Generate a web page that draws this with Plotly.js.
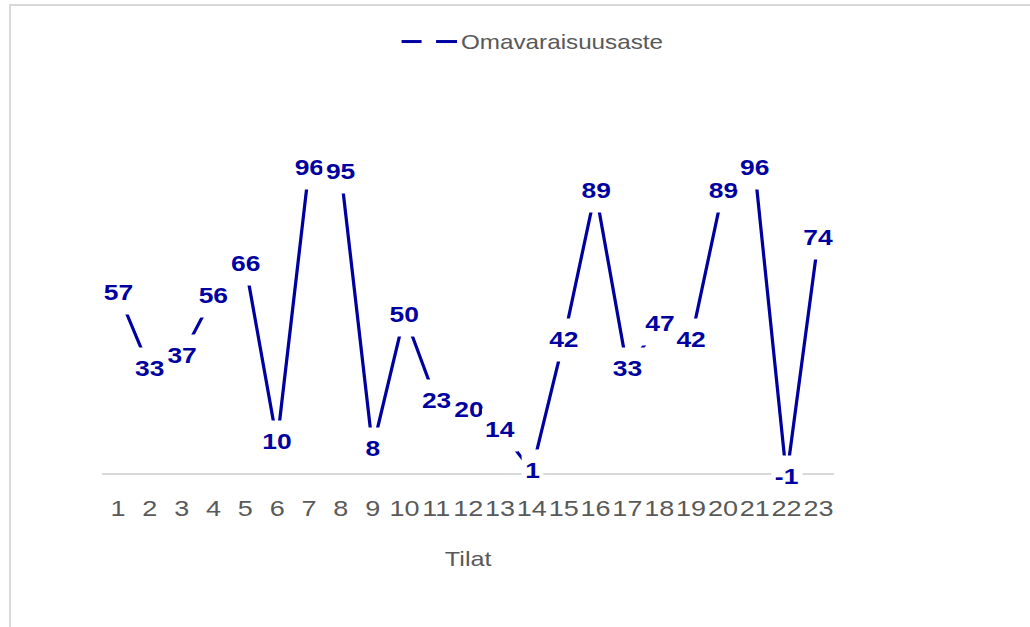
<!DOCTYPE html>
<html>
<head>
<meta charset="utf-8">
<script src="https://cdn.plot.ly/plotly-3.0.1.min.js"></script>
<style>
  html, body { margin:0; padding:0; background:#ffffff; overflow:hidden; width:1030px; height:627px; }
  #frame { position:absolute; left:9px; top:4px; width:1100px; height:700px;
           border-top:2px solid #d9d9d9; border-left:2px solid #d9d9d9; pointer-events:none; z-index:5; }
  #plot { position:absolute; left:0; top:0; height:627px; transform-origin:0 0; }
</style>
</head>
<body>
<div id="plot"></div>
<div id="frame"></div>
<script>
// ---- data ----
const categories = ["1","2","3","4","5","6","7","8","9","10","11","12","13","14","15","16","17","18","19","20","21","22","23"];
const omavaraisuusaste = [57,33,37,56,66,10,96,95,8,50,23,20,14,1,42,89,33,47,42,89,96,-1,74];
const seriesName = "Omavaraisuusaste";
const xTitle = "Tilat";

(function () {
  // ---- geometry (reference is horizontally stretched) ----
  const S = 1.2;
  const W = Math.round(1030 / S);
  const plotDiv = document.getElementById('plot');
  plotDiv.style.width = W + 'px';
  plotDiv.style.transform = 'scaleX(' + (1030 / W) + ')';

  const BLUE = '#0000a0';
  const GRAY = '#595959';
  const FONT = '"Liberation Sans", Arial, sans-serif';

  const pLeft = 84.75, pRight = 695.5;          // unscaled plot area x
  const pTop = 95.4, pBottom = 492.9;           // plot area y
  const plotW = pRight - pLeft, plotH = pBottom - pTop;
  function px2paperX(X) { return (X / S - pLeft) / plotW; }
  function px2paperY(Y) { return (pBottom - Y) / plotH; }

  const annotations = omavaraisuusaste.map((v, i) => {
    const t = String(v);
    const digits = t.replace('-', '').length;
    const w = digits * 12.2 + (t.startsWith('-') ? 7.3 : 0) + 5;
    return {
      x: i, y: v, xref: 'x', yref: 'y',
      text: '<b>' + t + '</b>', showarrow: false,
      font: { family: FONT, size: 22, color: BLUE },
      bgcolor: '#ffffff', width: w, height: 42, borderpad: 0,
      xanchor: 'center', yanchor: 'middle', align: 'center', valign: 'middle'
    };
  });

  // manual legend text
  annotations.push({
    xref: 'paper', yref: 'paper', x: px2paperX(459), y: px2paperY(42),
    xanchor: 'left', yanchor: 'middle', showarrow: false,
    text: seriesName, font: { family: FONT, size: 20.2, color: GRAY }
  });

  const shapes = [
    { type: 'line', xref: 'paper', yref: 'paper',
      x0: px2paperX(401.5), x1: px2paperX(421.5), y0: px2paperY(42), y1: px2paperY(42),
      line: { color: BLUE, width: 3 } },
    { type: 'line', xref: 'paper', yref: 'paper',
      x0: px2paperX(436), x1: px2paperX(457), y0: px2paperY(42), y1: px2paperY(42),
      line: { color: BLUE, width: 3 } }
  ];

  const trace = {
    type: 'scatter', mode: 'lines', name: seriesName,
    x: categories, y: omavaraisuusaste,
    line: { color: BLUE, width: 2.7 },
    showlegend: false, hoverinfo: 'skip', cliponaxis: false
  };

  const layout = {
    width: W, height: 627,
    margin: { l: pLeft, r: W - pRight, t: pTop, b: 627 - pBottom, pad: 0 },
    paper_bgcolor: '#ffffff', plot_bgcolor: '#ffffff',
    showlegend: false,
    font: { family: FONT, color: GRAY },
    xaxis: {
      type: 'category', range: [-0.5, 22.5],
      tickmode: 'array', tickvals: categories, ticktext: categories,
      tickangle: 0,
      showgrid: false, zeroline: false, showline: false,
      ticks: '',
      tickfont: { family: FONT, size: 22.5, color: GRAY },
      title: { text: xTitle, font: { family: FONT, size: 21, color: GRAY }, standoff: 30 },
      fixedrange: true
    },
    yaxis: {
      range: [-5.94, 119.06], showgrid: false, showticklabels: false, ticks: '',
      zeroline: true, zerolinecolor: '#d9d9d9', zerolinewidth: 1.8, showline: false,
      fixedrange: true
    },
    annotations: annotations,
    shapes: shapes
  };

  Plotly.newPlot(plotDiv, [trace], layout, { staticPlot: true, displayModeBar: false });
})();
</script>
</body>
</html>
